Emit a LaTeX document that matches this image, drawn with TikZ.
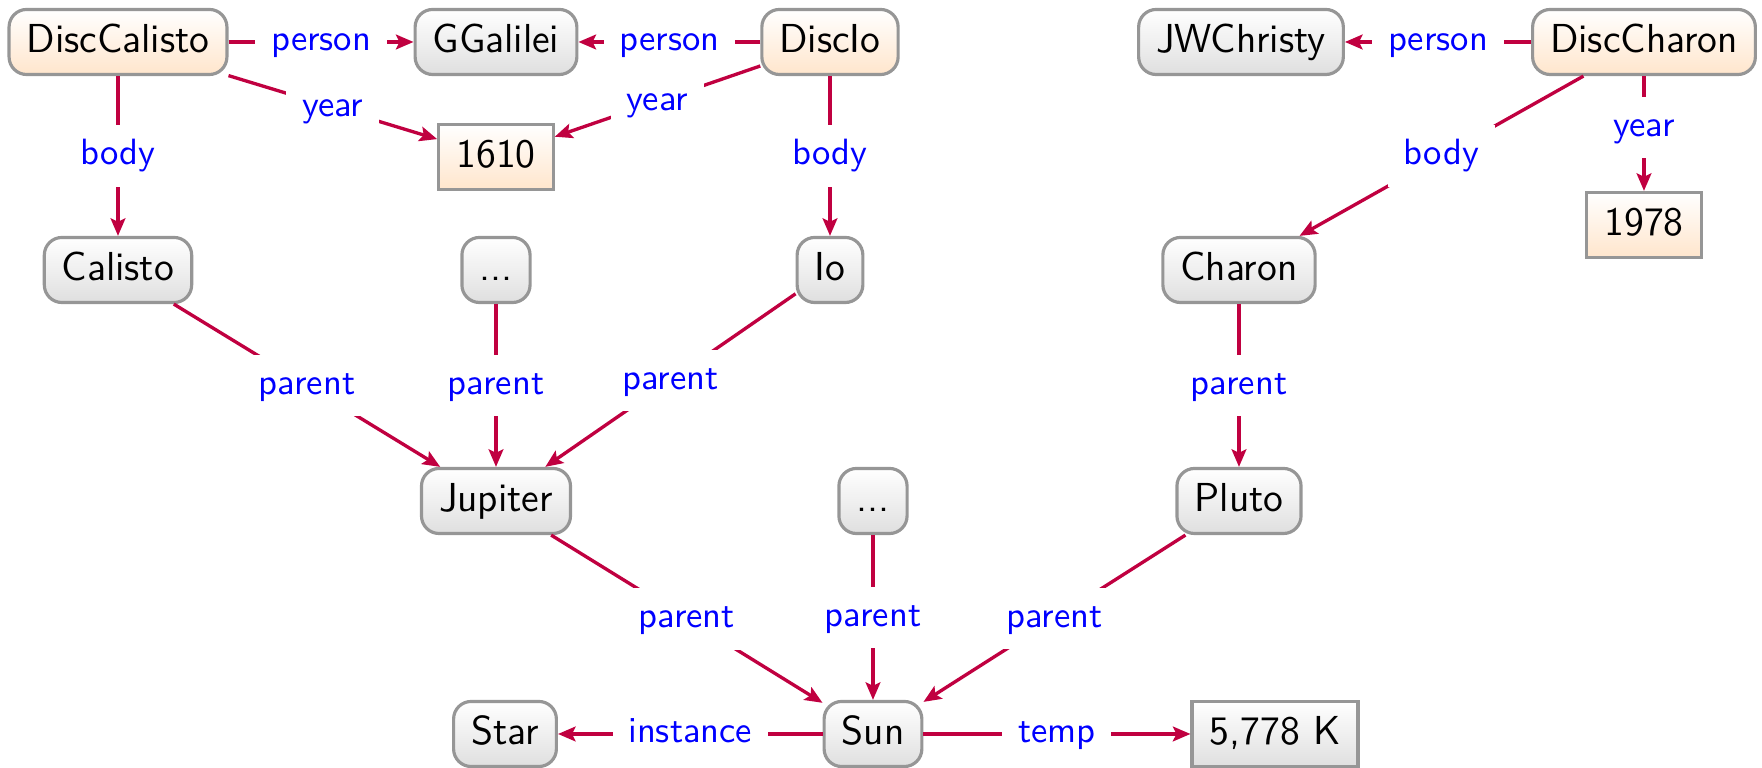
\documentclass[tikz,border=0pt]{standalone}
\usetikzlibrary{arrows.meta}
\definecolor{edgecol}{RGB}{192,0,64}
\definecolor{bordercol}{RGB}{150,150,150}
\begin{document}
\begin{tikzpicture}[x=0.01cm,y=-0.01cm,
 base/.style={draw=bordercol, line width=0.9pt, font=\sffamily\fontsize{11.5}{13}\selectfont, minimum height=18.5pt, inner xsep=5pt, text height=8.3pt, text depth=2.4pt},
 obj/.style={base, rounded corners=5pt, top color=white, bottom color=gray!25},
 disc/.style={base, rounded corners=5pt, top color=white, bottom color=orange!20},
 lit/.style={base, top color=white, bottom color=orange!20},
 litg/.style={base, top color=white, bottom color=gray!25},
 rel/.style={draw=edgecol, line width=0.95pt, -{Stealth[length=5pt,width=4.2pt,inset=1pt]}},
 lab/.style={fill=white, text=blue, font=\sffamily\fontsize{10.4}{12}\selectfont, text height=7.2pt, text depth=2.2pt, inner xsep=4.5pt, inner ysep=4pt, midway}
]
\useasboundingbox (0,0) rectangle (1762,768);
\node[disc] (dcal) at (118,42) {DiscCalisto};
\node[obj] (gg) at (496,42) {GGalilei};
\node[disc] (dio) at (830,42) {DiscIo};
\node[lit] (y1610) at (496,157) {1610};
\node[obj] (jw) at (1241,42) {JWChristy};
\node[disc] (dch) at (1644,42) {DiscCharon};
\node[lit] (y1978) at (1644,225) {1978};
\node[obj] (cal) at (118,270) {Calisto};
\node[obj] (dots1) at (496,270) {...};
\node[obj] (io) at (830,270) {Io};
\node[obj] (cha) at (1239,270) {Charon};
\node[obj] (jup) at (496,501) {Jupiter};
\node[obj] (dots2) at (873,501) {...};
\node[obj] (plu) at (1239,501) {Pluto};
\node[obj] (star) at (505,734) {Star};
\node[obj] (sun) at (873,734) {Sun};
\node[litg] (temp) at (1275,734) {5,778 K};

\draw[rel] (dcal) -- node[lab]{person} (gg);
\draw[rel] (dio) -- node[lab]{person} (gg);
\draw[rel] (dcal) -- node[lab]{year} (y1610);
\draw[rel] (dio) -- node[lab]{year} (y1610);
\draw[rel] (dcal) -- node[lab]{body} (cal);
\draw[rel] (dio) -- node[lab]{body} (io);
\draw[rel] (dch) -- node[lab]{person} (jw);
\draw[rel] (dch) -- node[lab]{body} (cha);
\draw[rel] (dch) -- node[lab, pos=0.45]{year} (y1978);
\draw[rel] (cal) -- node[lab]{parent} (jup);
\draw[rel] (dots1) -- node[lab]{parent} (jup);
\draw[rel] (io) -- node[lab]{parent} (jup);
\draw[rel] (cha) -- node[lab]{parent} (plu);
\draw[rel] (jup) -- node[lab]{parent} (sun);
\draw[rel] (dots2) -- node[lab]{parent} (sun);
\draw[rel] (plu) -- node[lab]{parent} (sun);
\draw[rel] (sun) -- node[lab]{instance} (star);
\draw[rel] (sun) -- node[lab]{temp} (temp);
\end{tikzpicture}
\end{document}
